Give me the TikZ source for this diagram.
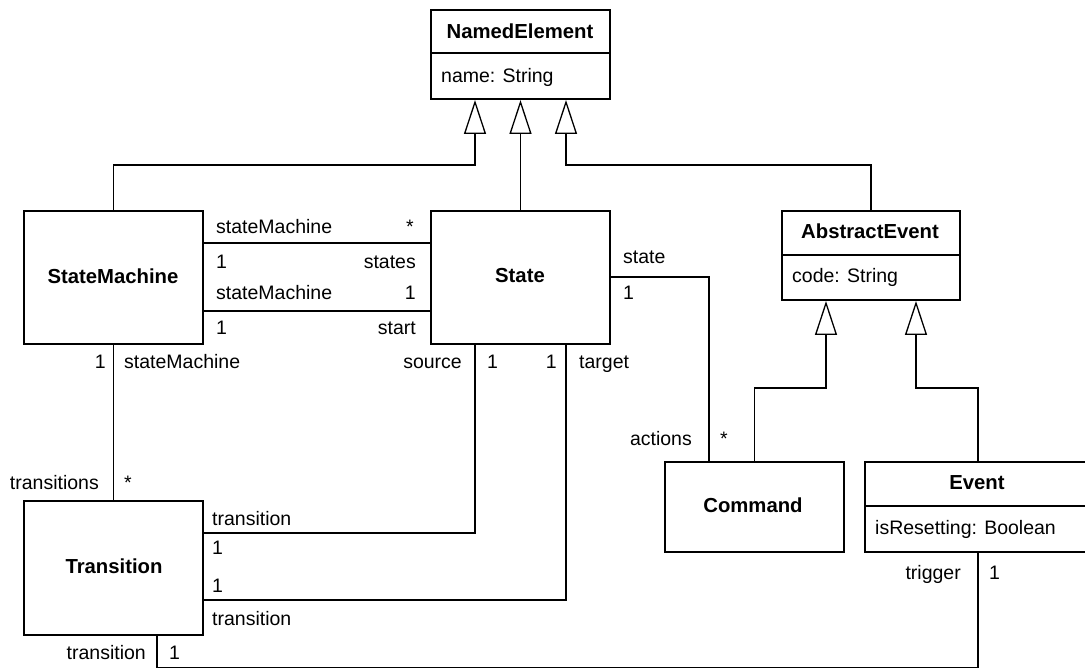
\documentclass[tikz,border=0pt]{standalone}
\usepackage{fontspec}
\setmainfont{Liberation Sans}
\usetikzlibrary{arrows.meta,calc}
\begin{document}
\begin{tikzpicture}[x=1pt,y=-1pt,
  every node/.style={font=\fontsize{19.5}{23}\selectfont},
  cls/.style={draw,line width=2pt,anchor=north west,inner sep=0pt},
  title/.style={font=\fontsize{20.3}{24}\selectfont\bfseries,inner sep=0pt},
  lab/.style={inner sep=0pt,text height=14pt,text depth=0pt},
  conn/.style={line width=1.3pt},
  gen/.style={line width=1.3pt,-{Triangle[open,length=34pt 0 0,width=22pt 0 0]}},
  sep/.style={line width=2pt}
]
\useasboundingbox (0,0) rectangle (1085,668);

% class boxes
\node[cls,minimum width=179pt,minimum height=89pt] (ne) at (430,9) {};
\node[cls,minimum width=179pt,minimum height=133pt] (sm) at (23,210) {};
\node[cls,minimum width=179pt,minimum height=133pt] (st) at (430,210) {};
\node[cls,minimum width=178pt,minimum height=89pt] (ae) at (781,210) {};
\node[cls,minimum width=179pt,minimum height=90pt] (cmd) at (664,461) {};
\node[cls,minimum width=226pt,minimum height=90pt] (ev) at (864,461) {};
\node[cls,minimum width=179pt,minimum height=134pt] (tr) at (23,500) {};

% compartments
\draw[sep] ($(ne.north west)+(0,44)$) -- ($(ne.north east)+(0,44)$);
\draw[sep] ($(ae.north west)+(0,45)$) -- ($(ae.north east)+(0,45)$);
\draw[sep] ($(ev.north west)+(0,45)$) -- ($(ev.north east)+(0,45)$);

% class names and attributes
\node[title] (neT) at (520,31) {NamedElement};
\node[lab,anchor=west] (neA) at (441,76) {name: String};
\node[title] (smT) at (113,276) {StateMachine};
\node[title] (stT) at (520,276) {State};
\node[title] (aeT) at (870,231) {AbstractEvent};
\node[lab,anchor=west] (aeA) at (792,276) {code: String};
\node[title] (trT) at (114,566) {Transition};
\node[title] (cmdT) at (753,505) {Command};
\node[title] (evT) at (977,483) {Event};
\node[lab,anchor=west] (evA) at (875,527) {isResetting: Boolean};

% generalizations
\draw[gen] (sm.north) -- ++(0,-45) -| ($(ne.south west)+(45,0)$);
\draw[gen] (st.north) -- (ne.south);
\draw[gen] (ae.north) -- ++(0,-45) -| ($(ne.south east)+(-45,0)$);
\draw[gen] (cmd.north) -- ++(0,-73) -| ($(ae.south west)+(45,0)$);
\draw[gen] (ev.north) -- ++(0,-73) -| ($(ae.south east)+(-45,0)$);

% associations
\draw[conn] ($(sm.north east)+(0,33)$) -- ($(st.north west)+(0,33)$);
\draw[conn] ($(sm.north east)+(0,101)$) -- ($(st.north west)+(0,101)$);
\draw[conn] (sm.south) -- (tr.north);
\draw[conn] ($(tr.north east)+(0,33)$) -| ($(st.south west)+(45,0)$);
\draw[conn] ($(tr.north east)+(0,100)$) -| ($(st.south east)+(-45,0)$);
\draw[conn] ($(st.north east)+(0,67)$) -| ($(cmd.north west)+(45,0)$);
\draw[conn] ($(tr.south west)+(134,0)$) -- ++(0,31.5) -| (ev.south);

% role names and multiplicities
\node[lab,anchor=west] (r1) at (216,227) {stateMachine};
\node[lab,anchor=east] (m1) at (414,227) {*};
\node[lab,anchor=west] (m2) at (216,262) {1};
\node[lab,anchor=east] (r2) at (416,262) {states};
\node[lab,anchor=west] (r3) at (216,293) {stateMachine};
\node[lab,anchor=east] (m3) at (416,293) {1};
\node[lab,anchor=west] (m4) at (216,328) {1};
\node[lab,anchor=east] (r4) at (416,328) {start};

\node[lab,anchor=west] (r5) at (623,257) {state};
\node[lab,anchor=west] (m5) at (623,293) {1};

\node[lab,anchor=east] (m6) at (106,362) {1};
\node[lab,anchor=west] (r6) at (124,362) {stateMachine};
\node[lab,anchor=east] (r7) at (462,362) {source};
\node[lab,anchor=west] (m7) at (487,362) {1};
\node[lab,anchor=east] (m8) at (557,362) {1};
\node[lab,anchor=west] (r8) at (579,362) {target};

\node[lab,anchor=east] (r9) at (99,482) {transitions};
\node[lab,anchor=west] (m9) at (124,482) {*};

\node[lab,anchor=west] (r10) at (212,518) {transition};
\node[lab,anchor=west] (m10) at (212,547) {1};
\node[lab,anchor=west] (m11) at (212,585) {1};
\node[lab,anchor=west] (r11) at (212,618) {transition};

\node[lab,anchor=east] (r12) at (146,652) {transition};
\node[lab,anchor=west] (m12) at (169,652) {1};

\node[lab,anchor=east] (r13) at (692,438) {actions};
\node[lab,anchor=west] (m13) at (720,438) {*};

\node[lab,anchor=east] (r14) at (961,572) {trigger};
\node[lab,anchor=west] (m14) at (989,572) {1};
\end{tikzpicture}
\end{document}
